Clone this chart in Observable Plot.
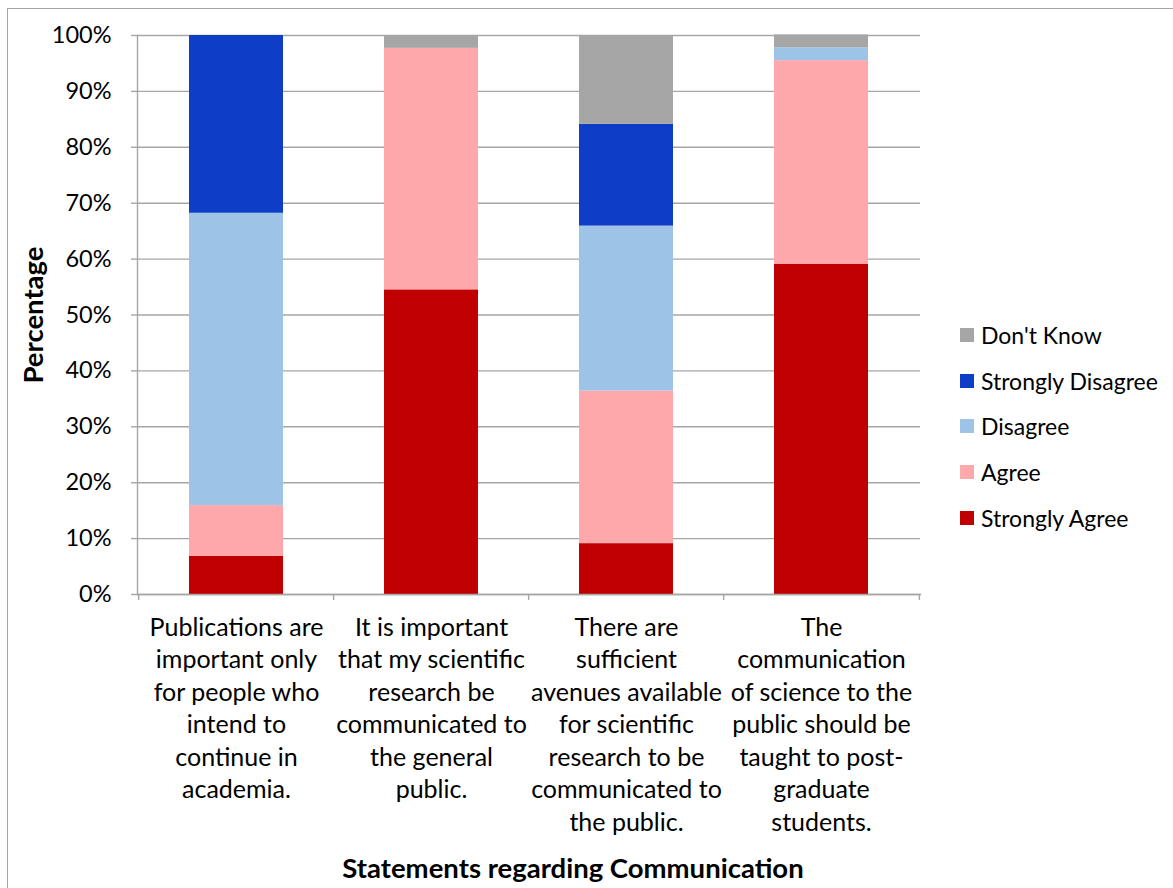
<!DOCTYPE html>
<html>
<head>
<meta charset="utf-8">
<script src="https://cdn.jsdelivr.net/npm/d3@7"></script>
<script src="https://cdn.jsdelivr.net/npm/@observablehq/plot@0.6"></script>
<style>
  html, body { margin: 0; padding: 0; background: #fff; overflow: hidden; }
  body { width: 1173px; height: 888px; position: relative; font-family: Lato, "Open Sans", sans-serif; }
  #frame { position: absolute; left: 7px; top: 8px; width: 1200px; height: 1000px; border: 1.5px solid #a6a6a6; box-sizing: border-box; }
  #chart { position: absolute; left: 0; top: 0; }
  #legend { position: absolute; left: 960px; top: 312px; font-size: 23px; color: #000; }
  .li { height: 45.8px; display: flex; align-items: center; white-space: nowrap; }
  .sw { width: 14px; height: 14px; margin-right: 7px; flex: none; }
  #ytitle { position: absolute; left: 32px; top: 315px; transform: translate(-50%, -50%) rotate(-90deg); font-weight: bold; font-size: 27.5px; white-space: nowrap; }
  #xtitle { position: absolute; left: 573px; top: 867px; transform: translate(-50%, -50%); font-weight: bold; font-size: 27.5px; white-space: nowrap; }
</style>
</head>
<body>
<div id="frame"></div>
<div id="chart"></div>
<div id="legend"></div>
<div id="ytitle">Percentage</div>
<div id="xtitle">Statements regarding Communication</div>
<script>
const categories = [
  "Publications are important only for people who intend to continue in academia.",
  "It is important that my scientific research be communicated to the general public.",
  "There are sufficient avenues available for scientific research to be communicated to the public.",
  "The communication of science to the public should be taught to post-graduate students."
];
const categoryLabels = [
  "Publications are\nimportant only\nfor people who\nintend to\ncontinue in\nacademia.",
  "It is important\nthat my scientific\nresearch be\ncommunicated to\nthe general\npublic.",
  "There are\nsufficient\navenues available\nfor scientific\nresearch to be\ncommunicated to\nthe public.",
  "The\ncommunication\nof science to the\npublic should be\ntaught to post-\ngraduate\nstudents."
];
const responses = ["Strongly Agree", "Agree", "Disagree", "Strongly Disagree", "Don't Know"];
const colors = ["#c00000", "#ffa8ab", "#9dc3e6", "#0e3ec6", "#a6a6a6"];
const stronglyAgree    = [6.8, 54.5, 9.1, 59.1];
const agree            = [9.1, 43.2, 27.3, 36.4];
const disagree         = [52.3, 0, 29.5, 2.3];
const stronglyDisagree = [31.8, 0, 18.2, 0];
const dontKnow         = [0, 2.3, 15.9, 2.3];
const yTicks = [0, 10, 20, 30, 40, 50, 60, 70, 80, 90, 100];

const series = [stronglyAgree, agree, disagree, stronglyDisagree, dontKnow];
const data = [];
categories.forEach((c, i) => {
  responses.forEach((r, j) => data.push({category: c, response: r, value: series[j][i]}));
});

const W = 1173, H = 888, ML = 137, MR = 253, MT = 35, MB = 294;
const halfStep = (W - ML - MR) / categories.length / 2;

const chart = Plot.plot({
  width: W, height: H,
  marginLeft: ML, marginRight: MR, marginTop: MT, marginBottom: MB,
  style: {fontFamily: "Lato, 'Open Sans', sans-serif", color: "#000", background: "transparent"},
  x: {domain: categories, paddingInner: 0.52, paddingOuter: 0.26, axis: null},
  y: {domain: [0, 100], axis: null},
  color: {domain: responses, range: colors},
  marks: [
    Plot.gridY(yTicks, {stroke: "#a6a6a6", strokeOpacity: 1, strokeWidth: 1.4}),
    Plot.axisY(yTicks, {tickSize: 6, tickPadding: 20, tickFormat: d => d + "%", fontSize: 23.5, stroke: "#a6a6a6", strokeWidth: 1.4, label: null}),
    Plot.barY(data, {x: "category", y: "value", fill: "response", order: responses}),
    Plot.frame({anchor: "left", stroke: "#a6a6a6", strokeWidth: 1.4}),
    Plot.frame({anchor: "bottom", stroke: "#a6a6a6", strokeWidth: 1.4}),
    Plot.ruleX(categories, {x: d => d, y1: 0, y2: 0, insetBottom: -6, dx: -halfStep, stroke: "#a6a6a6", strokeWidth: 1.4}),
    Plot.ruleX(categories.slice(-1), {x: d => d, y1: 0, y2: 0, insetBottom: -6, dx: halfStep, stroke: "#a6a6a6", strokeWidth: 1.4}),
    Plot.text(categories, {x: d => d, text: (d, i) => categoryLabels[i], frameAnchor: "bottom", lineAnchor: "top", dy: 18, fontSize: 25, lineHeight: 1.3, fill: "#000"})
  ]
});
document.getElementById("chart").appendChild(chart);

const legend = document.getElementById("legend");
responses.slice().reverse().forEach(r => {
  const row = document.createElement("div");
  row.className = "li";
  const sw = document.createElement("div");
  sw.className = "sw";
  sw.style.background = colors[responses.indexOf(r)];
  const t = document.createElement("span");
  t.textContent = r;
  row.appendChild(sw);
  row.appendChild(t);
  legend.appendChild(row);
});
</script>
</body>
</html>
